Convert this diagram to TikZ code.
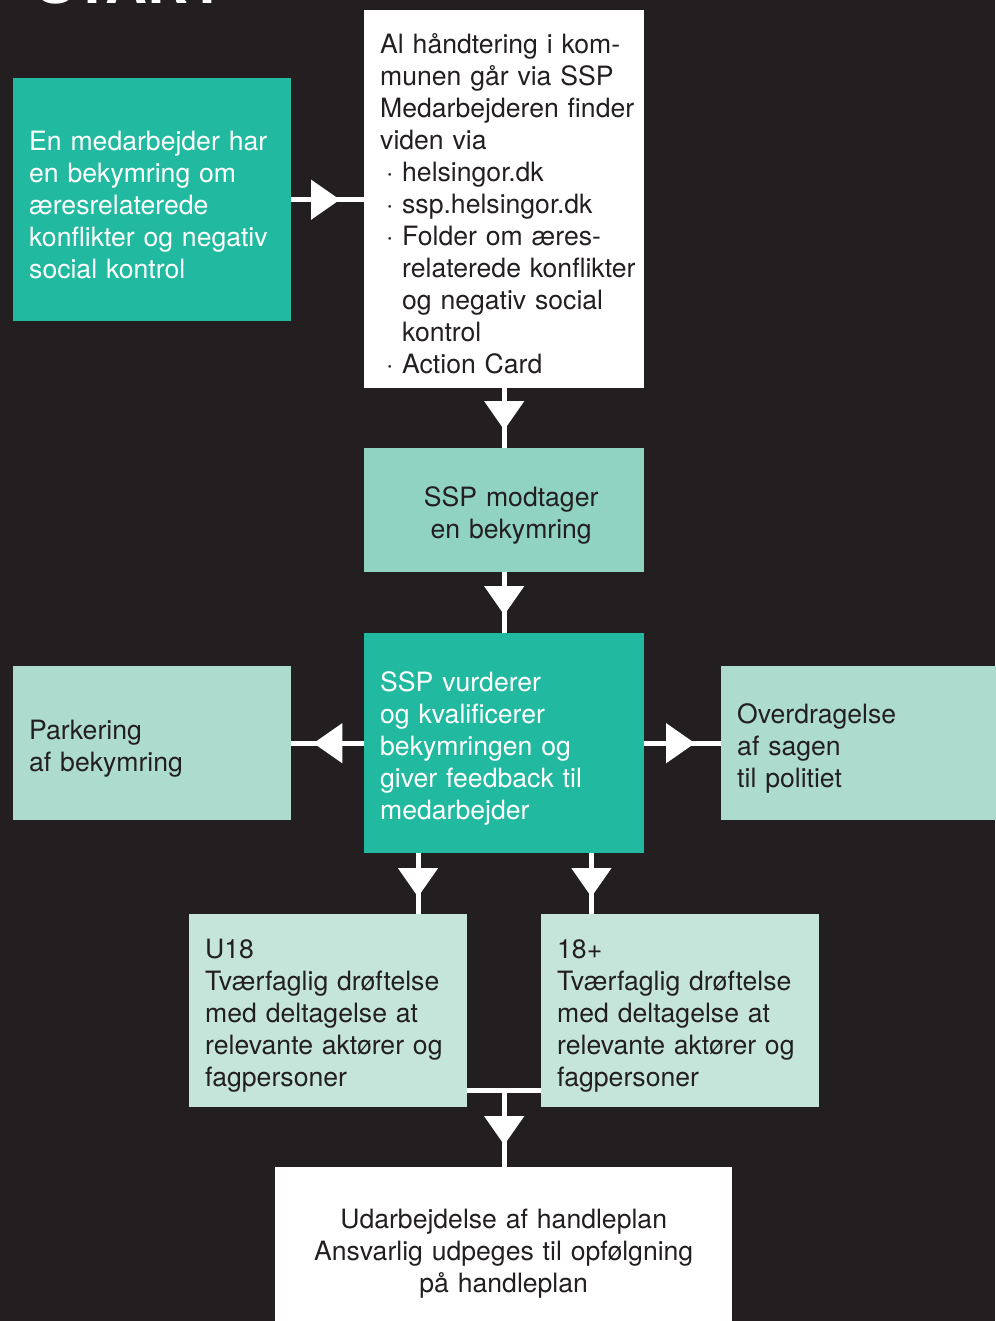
\documentclass[tikz,border=0pt]{standalone}
\usepackage{fontspec}
\setmainfont{TeX Gyre Heros}
\usetikzlibrary{arrows.meta,decorations.markings,calc}

\definecolor{night}{RGB}{35,31,32}
\definecolor{sspteal}{RGB}{33,186,160}
\definecolor{sspmid}{RGB}{144,211,193}
\definecolor{ssplight}{RGB}{173,219,205}
\definecolor{ssppale}{RGB}{197,229,219}

\newcommand{\itm}{\makebox[22pt][l]{\hspace{6pt}·}}
\newcommand{\ind}{\hspace*{22pt}}
\newcommand{\dropblock}{\endgraf\kern-10pt}

\begin{document}
\begin{tikzpicture}[
    x=1pt, y=-1pt,
    every node/.style={font=\fontsize{26.6}{32}\selectfont},
    panel/.style={rectangle, anchor=north west, inner sep=0pt, text=night, execute at end node=\dropblock},
    lefttext/.style={panel, align=left, execute at begin node={\leftskip=16pt}},
    link/.style={white, line width=5pt},
    flow/.style={link, postaction={decorate}, decoration={markings, mark=at position #1 with {\arrow{Triangle[width=39pt,length=29pt]}}}},
    flow/.default=-21pt
]
    \fill[night] (0,0) rectangle (995,1321);
    \useasboundingbox (0,0) rectangle (995,1321);

    \node[anchor=base west, text=white, font=\fontsize{58}{58}\bfseries\selectfont] (title) at (33,4) {START};

    % boxes
    \node[lefttext, fill=sspteal, text=white, text width=278pt, minimum height=243pt] (start) at (13,78)
        {En medarbejder har\\ en bekymring om\\ æresrelaterede\\ konflikter og negativ\\ social kontrol};
    \node[lefttext, fill=white, text width=280pt, minimum height=378pt] (info) at (364,10)
        {Al håndtering i kom-\\ munen går via SSP\\ Medarbejderen finder\\ viden via\\
         \itm helsingor.dk\\ \itm ssp.helsingor.dk\\ \itm Folder om æres-\\ \ind relaterede konflikter\\
         \ind og negativ social\\ \ind kontrol\\ \itm Action Card};
    \node[panel, fill=sspmid, align=center, text width=280pt, minimum height=124pt,
        execute at begin node={\leftskip=14pt plus 1fil\rightskip=0pt plus 1fil\parfillskip=0pt}] (receive) at (364,448)
        {SSP modtager\\ en bekymring};
    \node[lefttext, fill=sspteal, text=white, text width=280pt, minimum height=220pt] (assess) at (364,633)
        {SSP vurderer\\ og kvalificerer\\ bekymringen og\\ giver feedback til\\ medarbejder};
    \node[lefttext, fill=ssplight, text width=278pt, minimum height=154pt] (park) at (13,666)
        {Parkering\\ af bekymring};
    \node[lefttext, fill=ssplight, text width=290pt, minimum height=154pt] (police) at (721,666)
        {Overdragelse\\ af sagen\\ til politiet};
    \node[lefttext, fill=ssppale, text width=278pt, minimum height=193pt] (young) at (189,914)
        {U18\\ Tværfaglig drøftelse\\ med deltagelse at\\ relevante aktører og\\ fagpersoner};
    \node[lefttext, fill=ssppale, text width=278pt, minimum height=193pt] (adult) at (541,914)
        {18+\\ Tværfaglig drøftelse\\ med deltagelse at\\ relevante aktører og\\ fagpersoner};
    \node[panel, fill=white, align=center, text width=457pt, minimum height=162pt] (plan) at (275,1167)
        {Udarbejdelse af handleplan\\ Ansvarlig udpeges til opfølgning\\ på handleplan};

    % connectors
    \draw[flow=-24pt] (start.east) -- (start.east -| info.west);
    \draw[flow=-18pt] (info.south) -- (receive.north);
    \draw[flow=-18pt] (receive.south) -- (assess.north);
    \draw[flow=-22pt] (assess.west) -- (assess.west -| park.east);
    \draw[flow=-26pt] (assess.east) -- (assess.east -| police.west);
    \draw[flow=-17pt] ([xshift=54pt]assess.south west) -- ([xshift=54pt]assess.south west |- young.north);
    \draw[flow=-17pt] ([xshift=-53pt]assess.south east) -- ([xshift=-53pt]assess.south east |- adult.north);
    \draw[link] ([yshift=17pt]young.south east) -- ([yshift=17pt]adult.south west);
    \coordinate (merge) at ($([yshift=17pt]young.south east)!0.5!([yshift=17pt]adult.south west)$);
    \draw[flow=-22pt] (merge) -- (merge |- plan.north);
\end{tikzpicture}
\end{document}
